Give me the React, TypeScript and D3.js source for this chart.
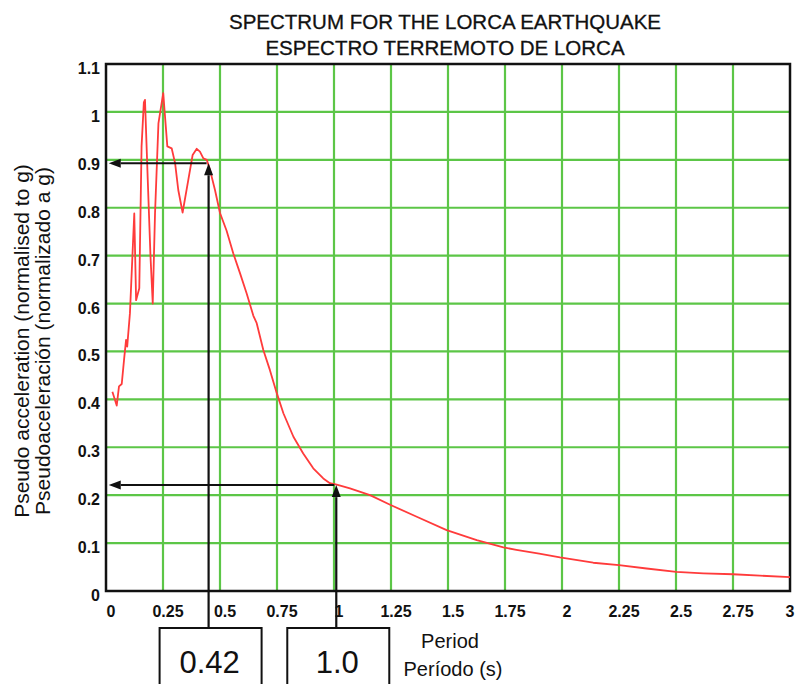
import React from 'react';
import * as d3 from 'd3';

// spectrum (period in s, pseudo acceleration in g)
const periods = [
  0.028, 0.047, 0.057, 0.069, 0.079, 0.088, 0.093, 0.105, 0.124, 0.132,
  0.146, 0.156, 0.166, 0.171, 0.183, 0.195, 0.205, 0.215, 0.23, 0.251,
  0.269, 0.288, 0.303, 0.317, 0.336, 0.361, 0.38, 0.398, 0.412, 0.427,
  0.442, 0.456, 0.478, 0.5, 0.529, 0.558, 0.588, 0.617, 0.646, 0.661,
  0.69, 0.719, 0.749, 0.778, 0.822, 0.865, 0.909, 0.953, 0.982, 1.012,
  1.07, 1.158, 1.246, 1.363, 1.494, 1.626, 1.743, 1.8, 1.9, 1.991,
  2.137, 2.25, 2.371, 2.501, 2.62, 2.75, 2.868, 3.0,
];
const accels = [
  0.416, 0.387, 0.427, 0.432, 0.482, 0.524, 0.51, 0.58, 0.788, 0.607,
  0.632, 0.928, 1.02, 1.025, 0.86, 0.7, 0.6, 0.788, 0.976, 1.039,
  0.928, 0.924, 0.893, 0.837, 0.79, 0.858, 0.91, 0.923, 0.917, 0.903,
  0.9, 0.879, 0.837, 0.789, 0.752, 0.705, 0.663, 0.621, 0.575, 0.559,
  0.503, 0.461, 0.413, 0.371, 0.322, 0.287, 0.256, 0.235, 0.225, 0.222,
  0.214, 0.2, 0.18, 0.155, 0.127, 0.106, 0.091, 0.086, 0.078, 0.07,
  0.059, 0.054, 0.047, 0.04, 0.037, 0.035, 0.032, 0.029,
];

const xTicks = [0, 0.25, 0.5, 0.75, 1, 1.25, 1.5, 1.75, 2, 2.25, 2.5, 2.75, 3];
const xTickLabels = ['0', '0.25', '0.5', '0.75', '1', '1.25', '1.5', '1.75', '2', '2.25', '2.5', '2.75', '3'];
const yTicks = [0, 0.1, 0.2, 0.3, 0.4, 0.5, 0.6, 0.7, 0.8, 0.9, 1, 1.1];
const yTickLabels = ['0', '0.1', '0.2', '0.3', '0.4', '0.5', '0.6', '0.7', '0.8', '0.9', '1', '1.1'];

// marked points on the curve and the values written in the boxes
const markerPeriods = [0.45, 1.01];
const markerAccels = [0.893, 0.221];
const markerLabels = ['0.42', '1.0'];

const titleLines = ['SPECTRUM FOR THE LORCA EARTHQUAKE', 'ESPECTRO TERREMOTO DE LORCA'];
const yTitleLines = ['Pseudo acceleration (normalised to g)', 'Pseudoaceleración (normalizado a g)'];
const xTitleLines = ['Period', 'Período (s)'];

const W = 797;
const H = 684;
const plot = { left: 106, right: 790, top: 64, bottom: 591 };
const font = '"Liberation Sans", Arial, Helvetica, sans-serif';
const green = '#5cc647';

const App = () => {
  const x = d3.scaleLinear().domain([0, 3]).range([plot.left, plot.right]);
  const y = d3.scaleLinear().domain([0, 1.1]).range([plot.bottom, plot.top]);

  const line = d3.line<number>()
    .x((_, i) => x(periods[i]))
    .y(d => y(d))
    .curve(d3.curveLinear);

  const boxTop = 628;
  const boxW = 102;
  const head = 12; // arrow head length
  const hw = 4.5;  // arrow head half width

  return (
    <svg width={W} height={H} style={{ position: 'absolute', left: 0, top: 0, background: '#fff' }}
      fontFamily={font}>
      <rect width={W} height={H} fill="#fff" />

      {titleLines.map((t, i) => (
        <text key={t} x={445} y={29 + i * 26} textAnchor="middle" fontSize={20.5} fill="#111"
          stroke="#111" strokeWidth={0.3}>{t}</text>
      ))}

      {/* grid */}
      {xTicks.slice(1, -1).map(t => (
        <line key={'gx' + t} x1={x(t)} x2={x(t)} y1={plot.top} y2={plot.bottom} stroke={green} strokeWidth={2.2} />
      ))}
      {yTicks.slice(1, -1).map(t => (
        <line key={'gy' + t} x1={plot.left} x2={plot.right} y1={y(t)} y2={y(t)} stroke={green} strokeWidth={2.2} />
      ))}

      <rect x={plot.left} y={plot.top} width={plot.right - plot.left} height={plot.bottom - plot.top}
        fill="none" stroke="#111" strokeWidth={2.5} />

      {/* tick labels */}
      {yTicks.map((t, i) => (
        <text key={'ty' + t} x={100} y={y(t) + 10} textAnchor="end" fontSize={16} fontWeight="bold" fill="#111">
          {yTickLabels[i]}
        </text>
      ))}
      {xTicks.map((t, i) => (
        <text key={'tx' + t} x={Math.min(x(t) + 5, 790)} y={617} textAnchor="middle" fontSize={16}
          fontWeight="bold" fill="#111">
          {xTickLabels[i]}
        </text>
      ))}

      {/* axis titles */}
      {yTitleLines.map((t, i) => (
        <text key={t} transform={`translate(${29 + i * 21},341) rotate(-90)`} textAnchor="middle"
          fontSize={21} fill="#111">{t}</text>
      ))}
      {xTitleLines.map((t, i) => (
        <text key={t} x={450 + i * 3} y={648 + i * 28} textAnchor="middle" fontSize={20} fill="#111">{t}</text>
      ))}

      {/* spectrum */}
      <path d={line(accels) || ''} fill="none" stroke="#ff3b3b" strokeWidth={1.8} strokeLinejoin="round" />

      {/* read-off arrows and boxes */}
      {markerPeriods.map((p, i) => {
        const px = x(p);
        const py = y(markerAccels[i]);
        const tipX = x(0.012);
        return (
          <g key={'m' + i}>
            <line x1={px} x2={px} y1={boxTop} y2={py + head} stroke="#111" strokeWidth={2.2} />
            <path d={`M${px},${py} L${px - hw},${py + head} L${px + hw},${py + head} Z`} fill="#111" />
            <line x1={px - 2} x2={tipX + head} y1={py} y2={py} stroke="#111" strokeWidth={2} />
            <path d={`M${tipX},${py} L${tipX + head},${py - hw} L${tipX + head},${py + hw} Z`} fill="#111" />
            <rect x={px + 2 - boxW / 2} y={boxTop} width={boxW} height={80} fill="#fff" stroke="#111" strokeWidth={2} />
            <text x={px + 1} y={673} textAnchor="middle" fontSize={31} fill="#111">{markerLabels[i]}</text>
          </g>
        );
      })}
    </svg>
  );
};

export default App;
